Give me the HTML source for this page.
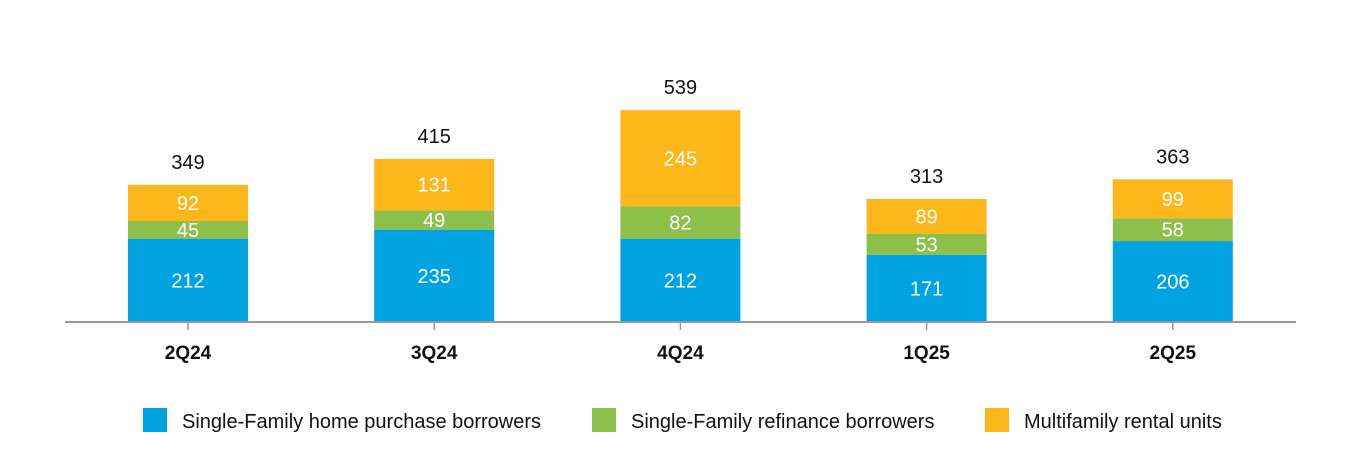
<!DOCTYPE html>
<html><head><meta charset="utf-8"><style>
body{margin:0;background:#fff;width:1360px;height:470px;overflow:hidden;font-family:"Liberation Sans",sans-serif}
</style></head><body>
<svg width="1360" height="470" id="chart"></svg>
<script>
const categories=["2Q24","3Q24","4Q24","1Q25","2Q25"];
const purchase=[212,235,212,171,206];
const refinance=[45,49,82,53,58];
const multifamily=[92,131,245,89,99];
const totals=[349,415,539,313,363];
const seriesNames=["Single-Family home purchase borrowers","Single-Family refinance borrowers","Multifamily rental units"];
const colors=["#00A3E0","#8CC04B","#FDB71A"];
const NS="http://www.w3.org/2000/svg";
const svg=document.getElementById("chart");
const base=322, scale=0.393, x0=188, step=246.2, bw=120;
const y=v=>base-v*scale, xc=i=>x0+i*step;
function mk(t,a,txt){const e=document.createElementNS(NS,t);for(const k in a)e.setAttribute(k,a[k]);if(txt!==undefined)e.textContent=txt;svg.appendChild(e);return e;}
const series=[purchase,refinance,multifamily];
categories.forEach((c,i)=>{
  let cum=0;
  series.forEach((s,j)=>{
    const v=s[i];
    const r=mk("rect",{x:xc(i)-bw/2,y:y(cum+v),width:bw,height:v*scale,fill:colors[j]});
    
    
    const t=mk("text",{x:xc(i),y:y(cum+v/2)+7,"text-anchor":"middle","font-size":20,fill:"#fff"},v);
    
    
    cum+=v;
  });
  const tt=mk("text",{x:xc(i),y:y(totals[i])-16,"text-anchor":"middle","font-size":20,fill:"#111"},totals[i]);
  
  
  const tk=mk("line",{x1:xc(i),x2:xc(i),y1:base,y2:base+8,stroke:"#999","stroke-width":1.5});
  
  
  const cl=mk("text",{x:xc(i),y:359,"text-anchor":"middle","font-size":19,"font-weight":"bold",fill:"#111"},c);
  
  
});
const ax=mk("line",{x1:65,x2:1296,y1:base,y2:base,stroke:"#999","stroke-width":2});


const lx=[143,592,985];
seriesNames.forEach((n,j)=>{
  const r=mk("rect",{x:lx[j],y:408,width:24,height:24,fill:colors[j]});
  
  
  const t=mk("text",{x:lx[j]+39,y:428,"font-size":20,fill:"#111"},n);
  
  
});
</script>
</body></html>
